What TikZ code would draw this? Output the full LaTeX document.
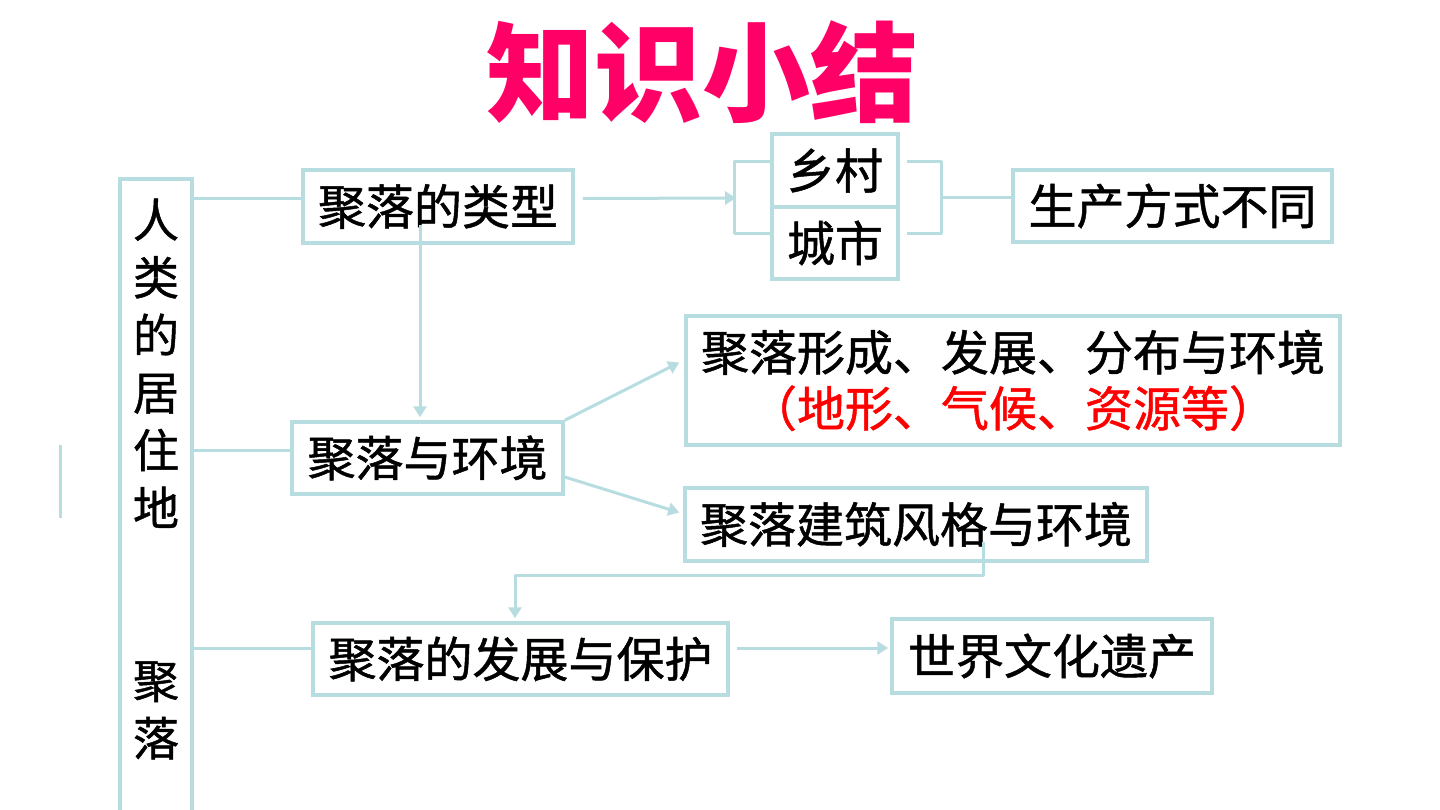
\documentclass[tikz,border=0pt]{standalone}
\usepackage{fontspec}
\newfontfamily\cjk{Noto Sans CJK SC}
\newfontfamily\cjkbody[FakeBold=1]{Noto Sans CJK SC}
\usetikzlibrary{arrows.meta,calc}
\definecolor{linecyan}{RGB}{183,221,224}
\definecolor{titlepink}{RGB}{255,0,102}
\tikzset{
         box/.style={draw=linecyan,line width=3.5pt,fill=white,inner sep=0pt,
                     font=\cjkbody\fontsize{48}{56}\selectfont,align=center},
         link/.style={draw=linecyan,line width=3pt,line join=round},
         arrowlink/.style={link,-{Triangle[length=11pt,width=13pt]}}
        }

\begin{document}
\begin{tikzpicture}[x=1pt,y=-1pt]
      \fill[white] (0,0) rectangle (1440,810); % background
      \clip (0,0) rectangle (1440,810);
      \node[font=\cjk\bfseries\fontsize{108}{120}\selectfont,text=titlepink] (title) at (702,72) {知识小结}; % title
      \node[box,minimum width=72,minimum height=651] (settle) at (156,504.5) {}; % left frame
      \node[font=\cjkbody\fontsize{46}{57.6}\selectfont,align=center,inner sep=0pt] (settletext) at (156,479)
            {人\\类\\的\\居\\住\\地\\\mbox{}\\\mbox{}\\聚\\落}; % frame label
      \draw[link] (60,445) -- (60,518); % short mark
      \node[box,minimum width=270,minimum height=73] (types) at (438,206.5) {聚落的类型};
      \node[box,minimum width=126,minimum height=73] (village) at (835,170.5) {乡村};
      \node[box,minimum width=126,minimum height=72] (city) at (835,243) {城市};
      \node[box,minimum width=319,minimum height=72] (mode) at (1172.5,206) {生产方式不同};
      \node[box,minimum width=271,minimum height=72] (env) at (427.5,458) {聚落与环境};
      \node[box,minimum width=654,minimum height=129] (form) at (1013,380.5)
            {聚落形成、发展、分布与环境\\\textcolor{red}{（地形、气候、资源等）}};
      \node[box,minimum width=462,minimum height=73] (style) at (916,524.5) {聚落建筑风格与环境};
      \node[box,minimum width=415,minimum height=72] (protect) at (520.5,659) {聚落的发展与保护};
      \node[box,minimum width=320,minimum height=74] (heritage) at (1052,656) {世界文化遗产};
      % branches from the frame
      \draw[link] ([yshift=8pt]types.west -| settle.east) -- ([yshift=8pt]types.west);
      \draw[link] ([yshift=8pt]env.west -| settle.east) -- ([yshift=8pt]env.west);
      \draw[link] ([yshift=11pt]protect.west -| settle.east) -- ([yshift=11pt]protect.west);
      % types
      \coordinate (bl) at (736,198);
      \coordinate (br) at (940,198);
      \draw[arrowlink] ([xshift=8pt,yshift=8pt]types.east) -- (bl);
      \draw[link] ([yshift=8.5pt]village.west) -| ([xshift=-36pt,yshift=9pt]city.west) -- ([yshift=9pt]city.west); % left bracket
      \draw[link] ([xshift=7pt,yshift=8.5pt]village.east) -| ([xshift=42pt,yshift=9pt]city.east) -- ([xshift=7pt,yshift=9pt]city.east); % right bracket
      \draw[link] (br) -- (br -| mode.west);
      \draw[arrowlink] ([xshift=-18pt,yshift=-19pt]types.center) -- ([xshift=-7.5pt,yshift=3pt]env.north);
      % environment
      \draw[arrowlink] (env.north east) -- ([xshift=-5pt,yshift=18pt]form.west);
      \draw[arrowlink] ([yshift=-19pt]env.east) -- ([xshift=-4pt,yshift=12pt]style.west);
      \draw[arrowlink] ([xshift=67pt,yshift=-17pt]style.center) -- ++(0,34) -| ([xshift=-5.5pt,yshift=3pt]protect.north);
      % protection
      \coordinate (pr) at ([xshift=7pt,yshift=11pt]protect.east);
      \draw[arrowlink] (pr) -- ([xshift=-2pt]pr -| heritage.west);
\end{tikzpicture}
\end{document}
